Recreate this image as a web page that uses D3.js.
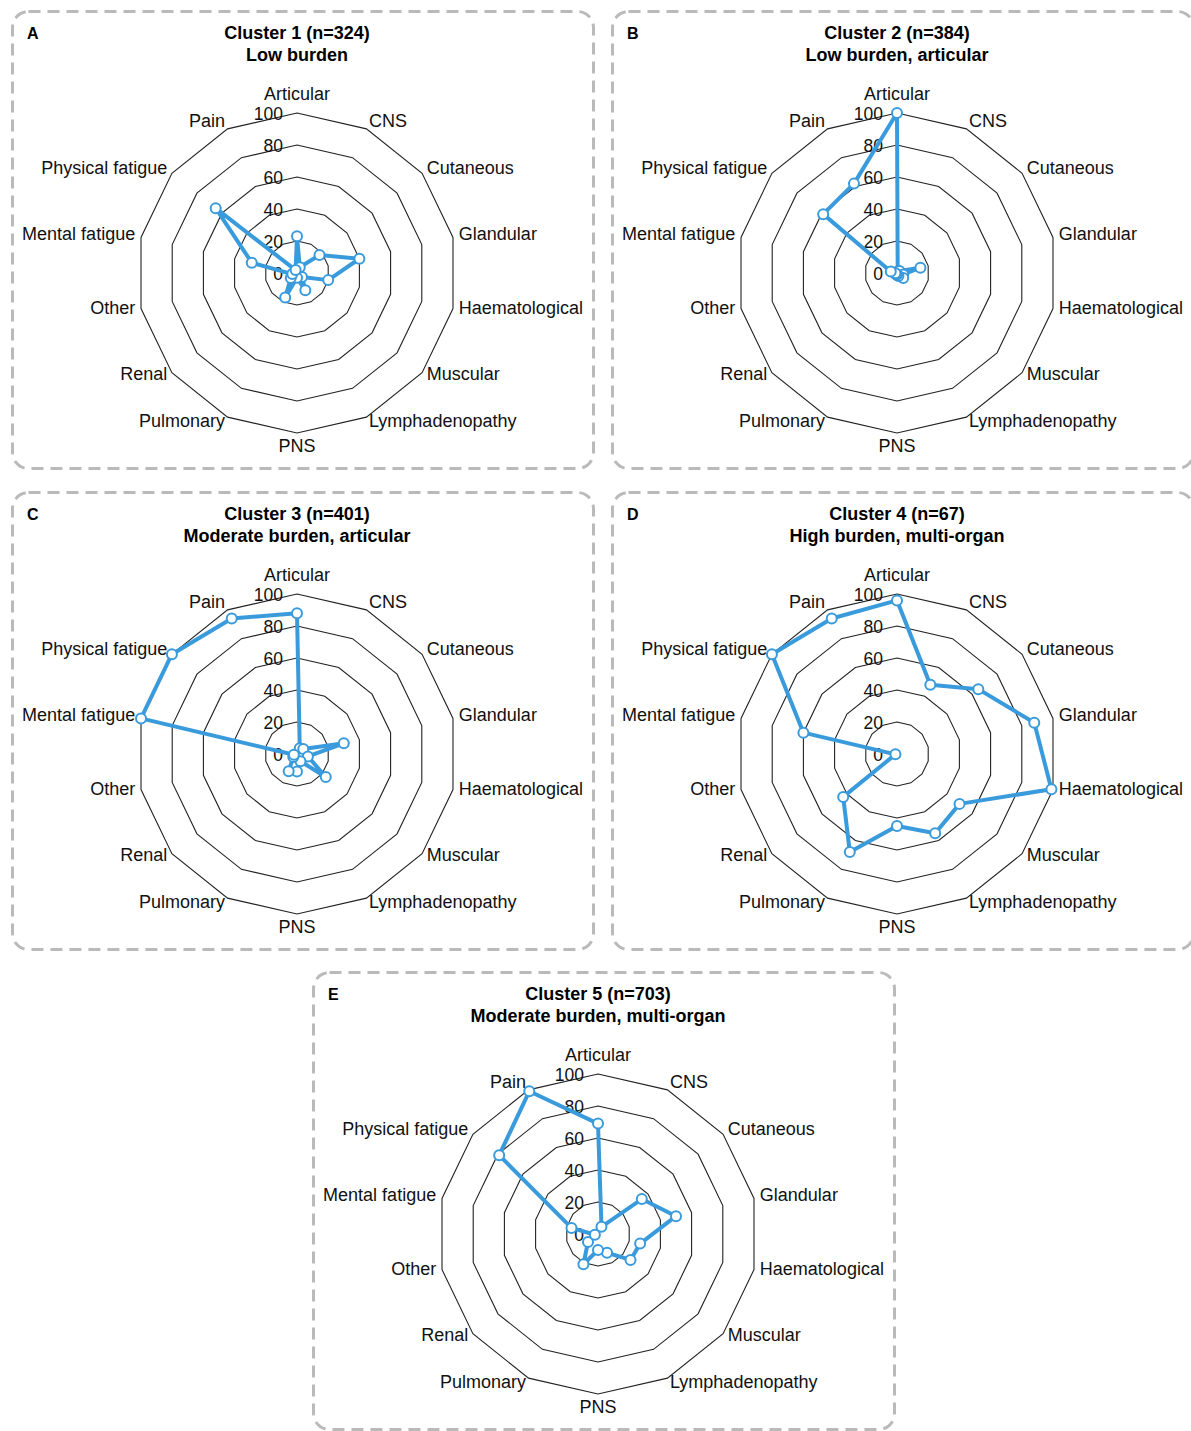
<!DOCTYPE html>
<html>
<head>
<meta charset="utf-8">
<script src="https://cdn.jsdelivr.net/npm/d3@7"></script>
<style>
  body { margin: 0; background: #fff; }
  svg { display: block; font-family: "Liberation Sans", Arial, Helvetica, sans-serif; }
</style>
</head>
<body>
<svg id="chart"></svg>
<script>
// axes, clockwise from the top
const axes = ["Articular", "CNS", "Cutaneous", "Glandular", "Haematological", "Muscular",
  "Lymphadenopathy", "PNS", "Pulmonary", "Renal", "Other", "Mental fatigue",
  "Physical fatigue", "Pain"];

const ticks = [0, 20, 40, 60, 80, 100];

const letters = ["A", "B", "C", "D", "E"];
const titles = ["Cluster 1 (n=324)", "Cluster 2 (n=384)", "Cluster 3 (n=401)",
  "Cluster 4 (n=67)", "Cluster 5 (n=703)"];
const subtitles = ["Low burden", "Low burden, articular", "Moderate burden, articular",
  "High burden, multi-organ", "Moderate burden, multi-organ"];

// values (% of patients)
const cluster1 = [23, 4, 18, 40, 20, 4, 12, 3, 17, 5, 3, 29, 65, 2];
const cluster2 = [100, 1, 2, 15, 4, 5, 2, 1, 1, 1, 1, 4, 59, 62];
const cluster3 = [88, 4, 5, 30, 7, 23, 5, 11, 12, 3, 2, 100, 100, 94];
const cluster4 = [96, 48, 65, 88, 99, 50, 55, 45, 68, 43, 1, 60, 100, 94];
const cluster5 = [69, 5, 35, 50, 27, 26, 13, 10, 21, 8, 2, 17, 79, 99];

const series = [cluster1, cluster2, cluster3, cluster4, cluster5];

const W = 1191, H = 1431;
const panelW = 584, panelH = 460;
const panels = [[11, 10], [611, 10], [11, 491], [611, 491], [312, 971]];
const blue = "#3a9bdc";

const svg = d3.select("#chart").attr("width", W).attr("height", H);

const r = d3.scaleLinear().domain([0, 100]).range([0, 160]);
const angle = d3.scaleLinear().domain([0, axes.length]).range([0, 2 * Math.PI]);

const ring = d3.lineRadial()
  .angle((d, i) => angle(i))
  .radius(d => r(d))
  .curve(d3.curveLinearClosed);

series.forEach((vals, k) => {
  const [px, py] = panels[k];
  const g = svg.append("g").attr("transform", `translate(${px},${py})`);

  g.append("rect")
    .attr("x", 1.5).attr("y", 1.5)
    .attr("width", panelW - 3).attr("height", panelH - 3)
    .attr("rx", 16)
    .attr("fill", "none")
    .attr("stroke", "#bababa")
    .attr("stroke-width", 3)
    .attr("stroke-dasharray", "12,7");

  g.append("text")
    .attr("x", 16).attr("y", 23)
    .attr("dominant-baseline", "central")
    .style("font-size", "16px").style("font-weight", "bold")
    .text(letters[k]);

  const cx = 286, cy = 263;

  g.append("text")
    .attr("x", cx).attr("y", 23)
    .attr("text-anchor", "middle").attr("dominant-baseline", "central")
    .style("font-size", "18px").style("font-weight", "bold")
    .text(titles[k]);
  g.append("text")
    .attr("x", cx).attr("y", 45)
    .attr("text-anchor", "middle").attr("dominant-baseline", "central")
    .style("font-size", "18px").style("font-weight", "bold")
    .text(subtitles[k]);

  const plot = g.append("g").attr("transform", `translate(${cx},${cy})`);

  // grid rings
  plot.selectAll(".ring")
    .data(ticks.filter(t => t > 0))
    .enter()
    .append("path")
    .attr("class", "ring")
    .attr("d", t => ring(axes.map(() => t)))
    .attr("fill", "none")
    .attr("stroke", "#222")
    .attr("stroke-width", 1.1);

  // tick labels
  plot.selectAll(".tick")
    .data(ticks)
    .enter()
    .append("text")
    .attr("class", "tick")
    .attr("x", -14)
    .attr("y", t => -r(t) + 1)
    .attr("text-anchor", "end")
    .attr("dominant-baseline", "central")
    .style("font-size", "17.5px")
    .style("fill", "#111")
    .text(t => t);

  // axis labels
  plot.selectAll(".axis-label")
    .data(axes)
    .enter()
    .append("text")
    .attr("class", "axis-label")
    .each(function (d, i) {
      const a = angle(i);
      const s = Math.sin(a), c = Math.cos(a);
      const [x, y] = d3.pointRadial(a, 166);
      const t = d3.select(this);
      if (Math.abs(s) < 0.01) {
        t.attr("x", x).attr("y", c > 0 ? y - 13 : y + 7).attr("text-anchor", "middle");
      } else {
        t.attr("x", x).attr("y", y - 2).attr("text-anchor", s > 0 ? "start" : "end");
      }
    })
    .attr("dominant-baseline", "central")
    .style("font-size", "18px")
    .style("fill", "#111")
    .text(d => d);

  // data line
  plot.append("path")
    .attr("d", ring(vals))
    .attr("fill", "none")
    .attr("stroke", blue)
    .attr("stroke-width", 4)
    .attr("stroke-linejoin", "round");

  plot.selectAll(".pt")
    .data(vals)
    .enter()
    .append("circle")
    .attr("class", "pt")
    .attr("cx", (d, i) => d3.pointRadial(angle(i), r(d))[0])
    .attr("cy", (d, i) => d3.pointRadial(angle(i), r(d))[1])
    .attr("r", 5)
    .attr("fill", "#fff")
    .attr("stroke", blue)
    .attr("stroke-width", 2);
});
</script>
</body>
</html>
